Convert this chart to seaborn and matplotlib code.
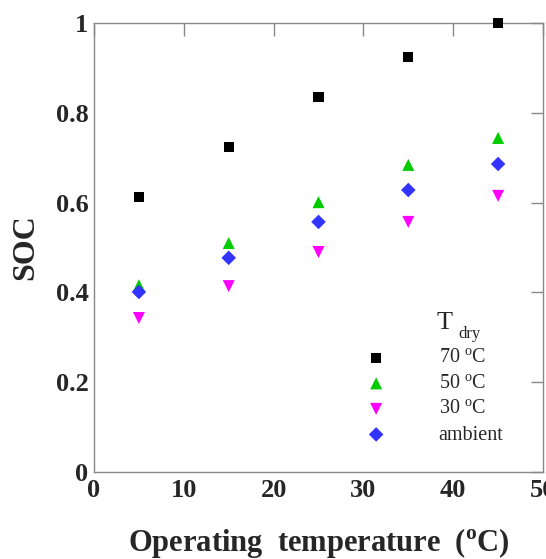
import matplotlib
matplotlib.use("Agg")
import matplotlib.pyplot as plt
import seaborn as sns
import pandas as pd

temps = [5, 15, 25, 35, 45]
soc_70 = [0.612, 0.724, 0.835, 0.924, 1.0]
soc_50 = [0.416, 0.510, 0.601, 0.684, 0.744]
soc_30 = [0.343, 0.414, 0.490, 0.557, 0.615]
soc_amb = [0.401, 0.477, 0.557, 0.628, 0.686]
labels = ["70 $^{\\mathregular{o}}$C", "50 $^{\\mathregular{o}}$C", "30 $^{\\mathregular{o}}$C", "ambient"]
xticks = [0, 10, 20, 30, 40, 50]
yticks = [0, 0.2, 0.4, 0.6, 0.8, 1.0]
ytick_labels = ["0", "0.2", "0.4", "0.6", "0.8", "1"]

rows = []
for lab, vals in zip(labels, [soc_70, soc_50, soc_30, soc_amb]):
    for t, v in zip(temps, vals):
        rows.append({"T": t, "SOC": v, "series": lab})
df = pd.DataFrame(rows)

sns.set_style("white")
plt.rcParams["font.family"] = ["Liberation Serif", "DejaVu Serif"]
plt.rcParams["mathtext.fontset"] = "custom"
plt.rcParams["mathtext.rm"] = "Liberation Serif"
plt.rcParams["mathtext.bf"] = "Liberation Serif:bold"

fig = plt.figure(figsize=(5.46, 5.59), dpi=100)
ax = fig.add_axes([94/546, (559-472)/559, (543-94)/546, (472-23)/559])

palette = {labels[0]: "black", labels[1]: "#00cc00", labels[2]: "#ff00ff", labels[3]: "#3333ff"}
markers = {labels[0]: "s", labels[1]: "^", labels[2]: "v", labels[3]: "D"}
sizes_map = {labels[0]: 55, labels[1]: 75, labels[2]: 75, labels[3]: 55}

for lab in labels:
    sub = df[df["series"] == lab]
    sns.scatterplot(data=sub, x="T", y="SOC", color=palette[lab], marker=markers[lab],
                    s=sizes_map[lab], edgecolor="none", ax=ax, label=lab, zorder=3, clip_on=False)

ax.set_xlim(0, 50)
ax.set_ylim(0, 1)
ax.set_xticks(xticks)
ax.set_yticks(yticks)
ax.set_yticklabels(ytick_labels)
for s in ax.spines.values():
    s.set_color("#888888")
    s.set_linewidth(1.0)
ax.tick_params(direction="in", length=9, width=1, color="#888888", labelsize=19,
               top=True, right=True)
ax.tick_params(axis="x", pad=5)
ax.tick_params(axis="y", pad=4)
for t in ax.get_xticklabels() + ax.get_yticklabels():
    t.set_fontweight("bold")
ax.set_xlabel("Operating  temperature  ($^{\\mathregular{o}}$C)", fontsize=22, fontweight="bold", labelpad=17)
ax.set_ylabel("SOC", fontsize=23, fontweight="bold", labelpad=11)

leg = ax.legend(loc="upper left", bbox_to_anchor=((356-94)/449, (472-349)/449),
                frameon=False, fontsize=14.5, handletextpad=2.1, handlelength=2.0,
                labelspacing=0.32, borderaxespad=0, borderpad=0)
ax.text((437-94)/449, (472-323)/449, "T", transform=ax.transAxes,
        fontsize=19, ha="left", va="center")
ax.text((458-94)/449, (472-334)/449, "dry", transform=ax.transAxes,
        fontsize=12, ha="left", va="center")

fig.savefig("out.png", dpi=100)
